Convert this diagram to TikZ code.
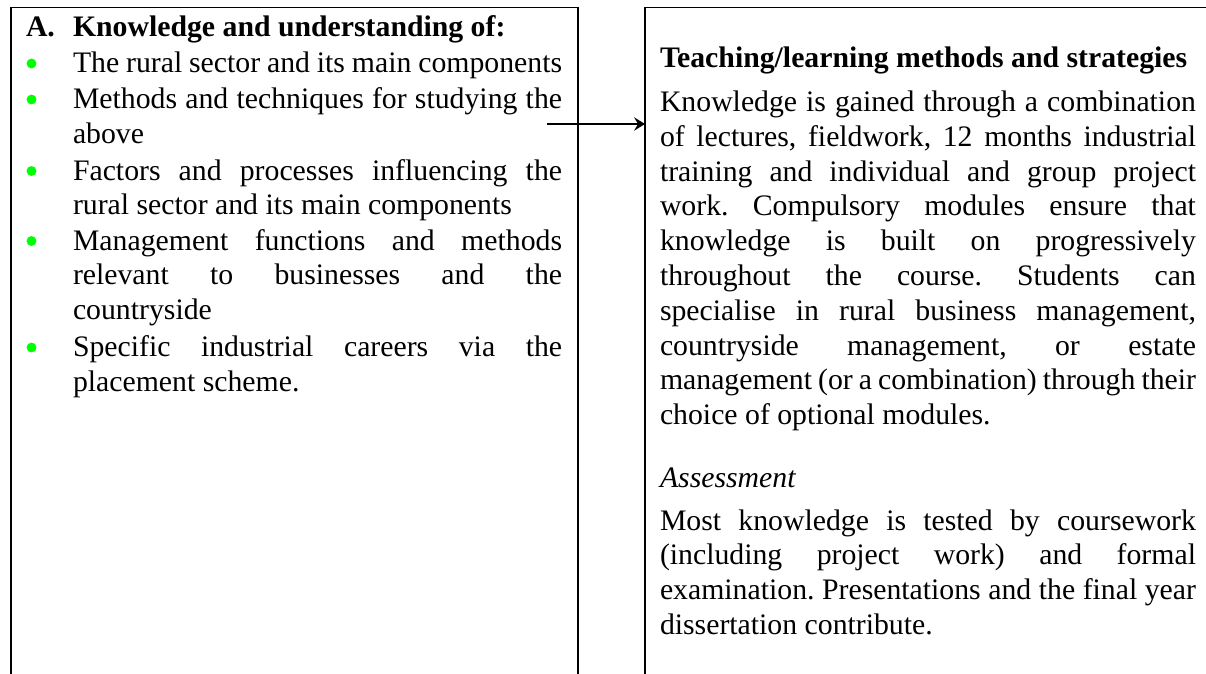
\documentclass[tikz,border=0pt]{standalone}
\usepackage{fontspec}
\setmainfont{Liberation Serif}
\usetikzlibrary{arrows.meta}
\definecolor{bulletgreen}{RGB}{0,255,0}
\hyphenpenalty=10000
\exhyphenpenalty=10000
\tolerance=10000
\frenchspacing
\tikzset{
  boxline/.style={line width=0.8pt, draw=black},
  txt/.style={anchor=base west, inner sep=0pt, outer sep=0pt, font=\fontsize{12}{14.03}\selectfont\frenchspacing},
  ltxt/.style={txt, text width=197.2pt, align=justify},
  rtxt/.style={txt, text width=216.1pt, align=justify},
  bul/.style={circle, fill=bulletgreen, inner sep=0pt, minimum size=4pt},
  conn/.style={line width=0.8pt, -{Stealth[length=4.4pt,width=5.4pt,inset=1.6pt]}}
}
\begin{document}
\begin{tikzpicture}[x=0.4032pt, y=-0.4032pt]
\useasboundingbox (0,0) rectangle (1206,673);
% box corners
\coordinate (lsw) at (11,690);
\coordinate (lnw) at (11,7.5);
\coordinate (lne) at (578,7.5);
\coordinate (lse) at (578,690);
\coordinate (rsw) at (645,690);
\coordinate (rnw) at (645,7.5);
\coordinate (rne) at (1230,7.5);
\draw[boxline] (lsw) -- (lnw) -- (lne) -- (lse);
\draw[boxline] (rsw) -- (rnw) -- (rne);
% left column
\node[txt] (la) at (26,36) {\bfseries A.};
\node[txt] (lhead) at (73,36) {\bfseries Knowledge and understanding of:};
\node[ltxt] (i1) at (73,72.5) {The rural sector and its main components};
\node[ltxt] (i2) at (73,108.5) {Methods and techniques for studying the\linebreak above};
\node[ltxt] (i3) at (73,180) {Factors and processes influencing the\linebreak rural sector and its main components};
\node[ltxt] (i4) at (73,250) {Management functions and methods\linebreak relevant to businesses and the\linebreak countryside};
\node[ltxt] (i5) at (73,356.5) {Specific industrial careers via the\linebreak placement scheme.};
\node[bul] (b1) at (31.5,63.5) {};
\node[bul] (b2) at (31.5,99.5) {};
\node[bul] (b3) at (31.5,171) {};
\node[bul] (b4) at (31.5,241) {};
\node[bul] (b5) at (31.5,347.5) {};
% right column
\node[txt] (rhead) at (660,67.5) {\bfseries Teaching/learning methods and strategies};
\node[rtxt] (rpara) at (660,111.5) {Knowledge is gained through a combination\linebreak
of lectures, fieldwork, 12 months industrial\linebreak
training and individual and group project\linebreak
work. Compulsory modules ensure that\linebreak
knowledge is built on progressively\linebreak
throughout the course. Students can\linebreak
specialise in rural business management,\linebreak
countryside management, or estate\linebreak
management (or a combination) through their\linebreak
choice of optional modules.};
\node[txt] (rass) at (660,487) {\itshape Assessment};
\node[rtxt] (rpara2) at (660,530) {Most knowledge is tested by coursework\linebreak
(including project work) and formal\linebreak
examination. Presentations and the final year\linebreak
dissertation contribute.};
% connector
\coordinate (astart) at (547,124);
\draw[conn] (astart) -- (astart -| rnw);
\end{tikzpicture}
\end{document}
